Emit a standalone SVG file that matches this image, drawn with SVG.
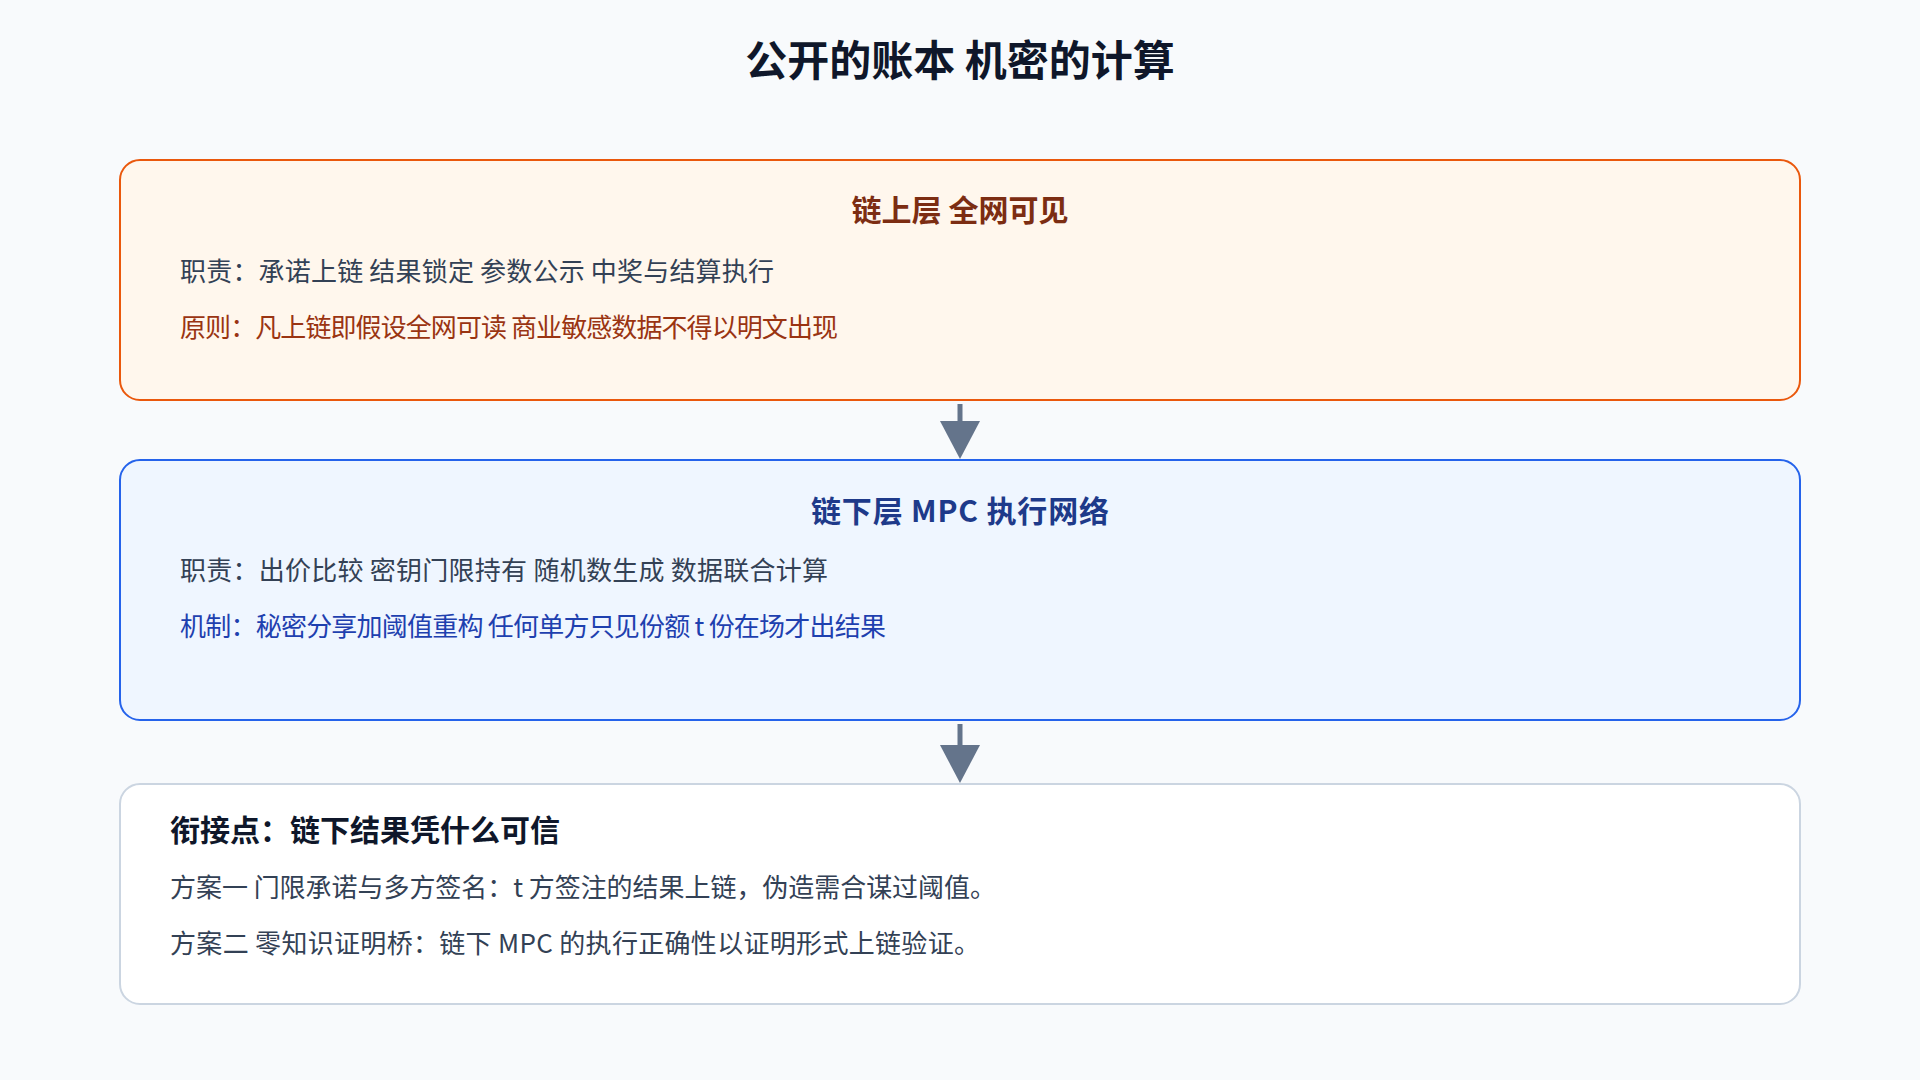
<svg xmlns="http://www.w3.org/2000/svg" width="1920" height="1080" viewBox="0 0 1920 1080">
  <defs>
    <style>
      text { font-family: "Noto Sans CJK SC", "Noto Sans", sans-serif; }
      .main-title { font-size: 42px; font-weight: 700; fill: #0f172a; text-anchor: middle; }
      .box-title { font-size: 30px; font-weight: 700; text-anchor: middle; }
      .body { font-size: 26px; fill: #334155; }
      .conn-line { stroke: #64748b; stroke-width: 5; fill: none; }
      .conn-head { fill: #64748b; }
    </style>
  </defs>
  <rect x="0" y="0" width="1920" height="1080" fill="#f8fafc"/>
  <text class="main-title" x="960" y="76">公开的账本 机密的计算</text>

  <g id="node-onchain">
    <rect x="120" y="160" width="1680" height="240" rx="20" ry="20" fill="#fff7ed" stroke="#ea580c" stroke-width="2"/>
    <text class="box-title" x="960" y="221" fill="#7c2d12">链上层 全网可见</text>
    <text class="body" x="180" y="281" textLength="594" lengthAdjust="spacing">职责：承诺上链 结果锁定 参数公示 中奖与结算执行</text>
    <text class="body" x="180" y="337" style="fill:#9a3412" textLength="658" lengthAdjust="spacing">原则：凡上链即假设全网可读 商业敏感数据不得以明文出现</text>
  </g>

  <g id="node-offchain">
    <rect x="120" y="460" width="1680" height="260" rx="20" ry="20" fill="#eff6ff" stroke="#2563eb" stroke-width="2"/>
    <text class="box-title" x="960" y="522" fill="#1e3a8a" textLength="298" lengthAdjust="spacing">链下层 MPC 执行网络</text>
    <text class="body" x="180" y="580" textLength="648" lengthAdjust="spacing">职责：出价比较 密钥门限持有 随机数生成 数据联合计算</text>
    <text class="body" x="180" y="636" style="fill:#1e40af" textLength="706" lengthAdjust="spacing">机制：秘密分享加阈值重构 任何单方只见份额 t 份在场才出结果</text>
  </g>

  <g id="node-bridge">
    <rect x="120" y="784" width="1680" height="220" rx="20" ry="20" fill="#ffffff" stroke="#cbd5e1" stroke-width="2"/>
    <text x="170" y="841" font-size="30" font-weight="700" fill="#0f172a">衔接点：链下结果凭什么可信</text>
    <text class="body" x="170" y="897" textLength="826" lengthAdjust="spacing">方案一 门限承诺与多方签名：t 方签注的结果上链，伪造需合谋过阈值。</text>
    <text class="body" x="170" y="953" textLength="810" lengthAdjust="spacing">方案二 零知识证明桥：链下 MPC 的执行正确性以证明形式上链验证。</text>
  </g>

  <g id="connectors">
    <line class="conn-line" x1="960" y1="404" x2="960" y2="424"/>
    <polygon class="conn-head" points="940,421 980,421 960,459"/>
    <line class="conn-line" x1="960" y1="724" x2="960" y2="748"/>
    <polygon class="conn-head" points="940,745 980,745 960,783"/>
  </g>
</svg>
